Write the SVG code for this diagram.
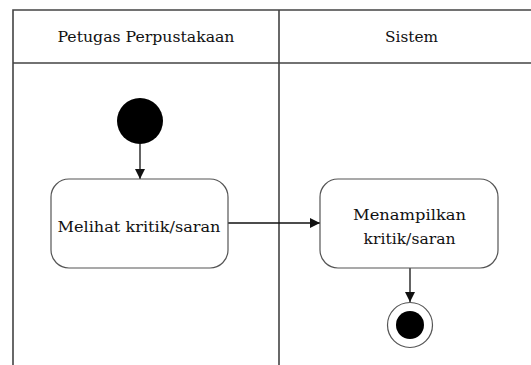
<svg xmlns="http://www.w3.org/2000/svg" width="531" height="365" viewBox="0 0 531 365">
  <style>
    .lane { fill: none; stroke: #444; stroke-width: 1.6; }
    .label { font-family: "DejaVu Serif", "Liberation Serif", serif; font-size: 15.5px; fill: #111; text-anchor: middle; }
    .action { fill: #fff; stroke: #555; stroke-width: 1.2; }
    .edge { fill: none; stroke: #111; stroke-width: 1.3; }
  </style>
  <defs>
    <marker id="arrow" viewBox="0 0 10 10" refX="10" refY="5" markerWidth="10" markerHeight="10" markerUnits="userSpaceOnUse" orient="auto">
      <path d="M0,0 L10,5 L0,10 Z" fill="#111"/>
    </marker>
  </defs>
  <rect width="531" height="365" fill="#fff"/>

  <!-- swimlanes -->
  <g id="swimlanes">
    <path class="lane" d="M13,365 V10 H531 M279,10 V365 M13,63 H531"/>
    <text class="label" x="146" y="42" textLength="177" lengthAdjust="spacingAndGlyphs">Petugas Perpustakaan</text>
    <text class="label" x="411.5" y="42" textLength="53" lengthAdjust="spacingAndGlyphs">Sistem</text>
  </g>

  <!-- connectors -->
  <g id="connectors">
    <line class="edge" x1="140" y1="144" x2="140" y2="179" marker-end="url(#arrow)"/>
    <line class="edge" x1="228" y1="223" x2="320" y2="223" marker-end="url(#arrow)"/>
    <line class="edge" x1="410" y1="268" x2="410" y2="302" marker-end="url(#arrow)"/>
  </g>

  <g id="start">
    <circle cx="140" cy="121" r="23" fill="#000"/>
  </g>

  <g id="melihat">
    <rect class="action" x="51" y="179" width="177" height="89" rx="18" ry="18"/>
    <text class="label" x="139" y="232" textLength="163" lengthAdjust="spacingAndGlyphs">Melihat kritik/saran</text>
  </g>

  <g id="menampilkan">
    <rect class="action" x="320" y="179" width="178" height="89" rx="18" ry="18"/>
    <text class="label" x="409.5" y="220" textLength="113" lengthAdjust="spacingAndGlyphs">Menampilkan</text>
    <text class="label" x="409.5" y="244" textLength="92" lengthAdjust="spacingAndGlyphs">kritik/saran</text>
  </g>

  <g id="end">
    <circle cx="410" cy="325" r="22.5" fill="#fff" stroke="#555" stroke-width="1.2"/>
    <circle cx="410" cy="325" r="14" fill="#000"/>
  </g>
</svg>
